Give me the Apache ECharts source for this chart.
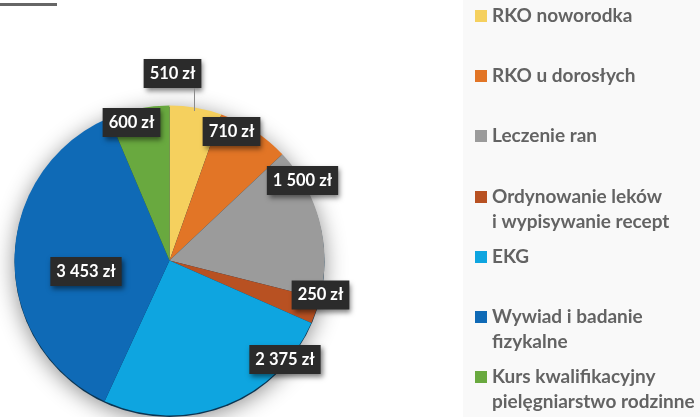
<!DOCTYPE html>
<html><head><meta charset="utf-8">
<style>html,body{margin:0;padding:0;background:#fff}#c{width:700px;height:417px}</style>
<script src="https://cdn.jsdelivr.net/npm/echarts@6/dist/echarts.min.js"></script>
</head><body><div id="c"></div>
<script>
const categories = ['RKO noworodka','RKO u dorosłych','Leczenie ran','Ordynowanie leków','EKG','Wywiad i badanie','Kurs kwalifikacyjny'];
const categoryContinuations = ['','','','i wypisywanie recept','','fizykalne','pielęgniarstwo rodzinne'];
const values = [510,710,1500,250,2375,3453,600];
const valueLabels = ['510 zł','710 zł','1 500 zł','250 zł','2 375 zł','3 453 zł','600 zł'];
const sliceColors = ['#f5d05e','#e27526','#9b9b9b','#b85122','#0ea5e0','#0f6ab6','#69a93f'];
const legendColors = ['#ffd45c','#f07a22','#a9abae','#c25324','#12ace6','#0a69b4','#6aaa41'];
const legendCentres = [16,76,136,197,257,317,377];
const labelCentres = [[172.5,73.5],[231.5,131.5],[302.5,180.5],[320.5,295],[285,359.5],[86,271.5],[131.5,122.5]];

const chart = echarts.init(document.getElementById('c'));
const FONT = 'Lato';
const pieCentre = [169.5,260.5], pieRadius = 155;
const legendStyle = {color:'#636363',fontFamily:FONT,fontWeight:'bold',fontSize:19};
chart.setOption({
  animation:false,
  backgroundColor:'#fff',
  graphic:[
    {type:'rect',z:-10,shape:{x:463,y:0,width:237,height:417},style:{fill:'#f9f9f9'}},
    {type:'rect',z:-10,shape:{x:0,y:3,width:57,height:3},style:{fill:'#666'}},
    {type:'line',z:5,shape:{x1:194.5,y1:88,x2:194.5,y2:111},style:{stroke:'#8a8a8a',lineWidth:1}}
  ].concat(categoryContinuations.map((t,i)=>({
    type:'text',z:5,x:492,y:legendCentres[i]+25,
    style:{text:t,verticalAlign:'middle',align:'left',fill:legendStyle.color,font:'bold 19px '+FONT}
  }))),
  legend: categories.map((c,i)=>({
    data:[c], left:475, top:legendCentres[i]-10, orient:'vertical', icon:'rect', padding:0,
    itemWidth:12,itemHeight:12,itemGap:0, selectedMode:false,
    textStyle:Object.assign({lineHeight:20,padding:[0,0,0,0]},legendStyle)
  })),
  color:legendColors,
  series:[
    {type:'pie',silent:true,z:1,center:[pieCentre[0],pieCentre[1]+1.5],radius:pieRadius,startAngle:90,clockwise:true,
      legendHoverLink:false,
      data:[{value:values.reduce((a,b)=>a+b,0),name:'_shadow'}],
      label:{show:false},labelLine:{show:false},
      itemStyle:{color:'#0b3552',shadowBlur:22,shadowColor:'rgba(0,0,0,0.45)',shadowOffsetY:3}},
    {type:'pie',silent:true,z:2,center:pieCentre,radius:pieRadius,startAngle:90,clockwise:true,
      data:categories.map((c,i)=>({name:c,value:values[i],itemStyle:{color:sliceColors[i]}})),
      itemStyle:{borderWidth:0},
      label:{show:true,position:'inside',formatter:p=>valueLabels[p.dataIndex],
        color:'#fff',fontFamily:FONT,fontWeight:'bold',fontSize:16.5,
        backgroundColor:'#2b2b2b',padding:[6,6,6,6],
        shadowColor:'rgba(0,0,0,0.5)',shadowBlur:5,shadowOffsetX:2,shadowOffsetY:3},
      labelLine:{show:false},
      labelLayout:p=>{const c=labelCentres[p.dataIndex];return {x:c[0],y:c[1],align:'center',verticalAlign:'middle'};}
    }
  ]
});
</script></body></html>
